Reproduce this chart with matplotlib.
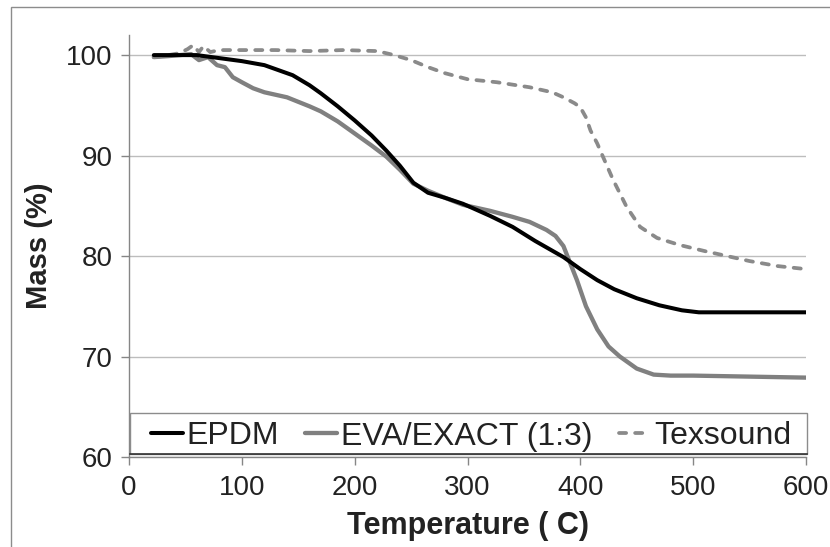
import matplotlib
matplotlib.use("Agg")
import matplotlib.pyplot as plt
from matplotlib.patches import Rectangle

plt.rcParams['font.family'] = ['Liberation Sans', 'DejaVu Sans']

# ---- data ----
epdm_T = [22, 40, 60, 80, 100, 120, 145, 160, 170, 185, 200, 215, 228, 240, 252, 265,
          280, 296, 320, 340, 360, 385, 400, 415, 430, 450, 470, 490, 505, 520, 550, 600]
epdm_M = [100.0, 100.0, 100.0, 99.7, 99.4, 99.0, 98.0, 97.0, 96.2, 94.9, 93.5, 92.0, 90.5,
          89.0, 87.3, 86.3, 85.8, 85.2, 84.0, 82.9, 81.5, 79.9, 78.7, 77.6, 76.7, 75.8,
          75.1, 74.6, 74.4, 74.4, 74.4, 74.4]

eva_T = [22, 35, 45, 55, 62, 70, 78, 85, 92, 100, 110, 120, 140, 160, 170, 185, 200, 215,
         228, 240, 252, 265, 280, 296, 320, 340, 355, 370, 378, 385, 391, 397, 405, 415,
         425, 435, 450, 465, 480, 500, 550, 600]
eva_M = [99.8, 99.9, 100.0, 100.1, 99.5, 99.8, 99.0, 98.8, 97.8, 97.3, 96.7, 96.3, 95.8,
         94.9, 94.4, 93.4, 92.2, 91.0, 89.9, 88.6, 87.2, 86.5, 85.8, 85.1, 84.5, 83.9,
         83.4, 82.6, 82.0, 81.0, 79.3, 77.6, 75.0, 72.7, 71.0, 70.0, 68.8, 68.2, 68.1,
         68.1, 68.0, 67.9]

tex_T = [22, 35, 45, 52, 57, 62, 66, 72, 80, 100, 130, 160, 190, 220, 235, 250, 265, 280,
         300, 326, 355, 375, 385, 395, 400, 405, 409, 415, 420, 429, 441, 453, 468, 488,
         510, 530, 550, 575, 600]
tex_M = [99.8, 100.0, 100.2, 100.6, 101.0, 100.3, 100.9, 100.3, 100.5, 100.5, 100.5, 100.4,
         100.5, 100.4, 100.0, 99.5, 98.8, 98.2, 97.6, 97.3, 96.8, 96.3, 95.8, 95.2, 94.8,
         93.8, 92.5, 91.2, 89.9, 87.6, 84.9, 82.9, 81.8, 81.1, 80.5, 80.0, 79.5, 79.0, 78.7]

series_labels = ['EPDM', 'EVA/EXACT (1:3)', 'Texsound']
x_ticks = [0, 100, 200, 300, 400, 500, 600]
y_ticks = [60, 70, 80, 90, 100]

# ---- figure ----
fig = plt.figure(figsize=(8.30, 5.47), dpi=100)
fig.patches.append(Rectangle((11 / 830, -0.5), 2.0, 0.5 + 1 - 7 / 547,
                             transform=fig.transFigure, fill=False,
                             edgecolor='#8c8c8c', linewidth=1.0))

ax = fig.add_axes([129 / 830, 1 - 457 / 547, (806 - 129) / 830, (457 - 35) / 547])

ax.plot(epdm_T, epdm_M, color='black', lw=2.9, solid_capstyle='round',
        label=series_labels[0], zorder=4)
ax.plot(eva_T, eva_M, color='#808080', lw=3.1, solid_capstyle='round',
        label=series_labels[1], zorder=3)
ax.plot(tex_T, tex_M, color='#8a8a8a', lw=2.7, dashes=(1.9, 2.4),
        dash_capstyle='round', label=series_labels[2], zorder=3)

ax.set_xlim(0, 600)
ax.set_ylim(60, 102)
ax.set_xticks(x_ticks)
ax.set_yticks(y_ticks)
ax.yaxis.grid(True, color='#bdbdbd', lw=1.0)
ax.set_axisbelow(True)

for s in ['top', 'right']:
    ax.spines[s].set_visible(False)
for s in ['left', 'bottom']:
    ax.spines[s].set_color('#868686')
    ax.spines[s].set_linewidth(1.0)

ax.tick_params(axis='both', direction='out', length=6, width=1.0, color='#868686',
               labelsize=20, labelcolor='#222222')
ax.tick_params(axis='y', pad=6)
ax.tick_params(axis='x', pad=7)

ax.set_xlabel('Temperature ( C)', fontsize=22, fontweight='bold', labelpad=7,
              color='#222222')
ax.set_ylabel('Mass (%)', fontsize=21, fontweight='bold', labelpad=9,
              color='#222222')

# legend box (frame drawn separately so the entries can sit inset)
box_x0, box_x1 = 1 / 677, 678 / 677
box_y0, box_y1 = 3 / 422, 44 / 422
ax.add_patch(Rectangle((box_x0, box_y0), box_x1 - box_x0, box_y1 - box_y0,
                       transform=ax.transAxes, facecolor='white',
                       edgecolor='#8c8c8c', linewidth=1.0, zorder=4.5,
                       clip_on=False))
ax.plot([box_x0, box_x1], [box_y0, box_y0], transform=ax.transAxes,
        color='#333333', lw=1.2, zorder=4.6, clip_on=False)

leg = ax.legend(loc='center', bbox_to_anchor=(22 / 677, box_y0 - 3 / 422, 640 / 677, box_y1 - box_y0),
                mode='expand', ncol=3, fontsize=23, frameon=False,
                borderaxespad=0, handlelength=1.0, handletextpad=0.1,
                columnspacing=0.8, borderpad=0.0)
leg.set_zorder(5)
for t in leg.get_texts():
    t.set_color('#222222')

fig.savefig('out.png', dpi=100)
